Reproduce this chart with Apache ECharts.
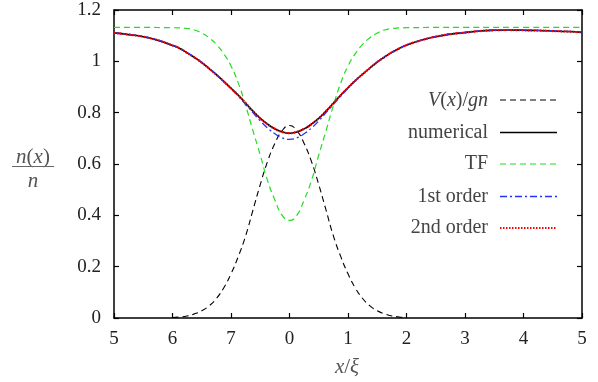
<!DOCTYPE html>
<html>
<head>
<meta charset="utf-8">
<script src="https://cdn.jsdelivr.net/npm/echarts@6/dist/echarts.min.js"></script>
<style>
html,body{margin:0;padding:0;background:#fff;}
#c{width:598px;height:382px;}
</style>
</head>
<body>
<div id="c"></div>
<script>
// tick labels shown on the x axis (as printed in the reference)
var xTickLabels = ["5","6","7","0","1","2","3","4","5"];
var xMin = -3, xMax = 5;

// V(x)/gn
var vX = [-2,-1.875,-1.75,-1.625,-1.5,-1.375,-1.25,-1.125,-1,-0.875,-0.75,-0.625,-0.5,-0.375,-0.25,-0.125,0,
          0.125,0.25,0.375,0.5,0.625,0.75,0.875,1,1.125,1.25,1.375,1.5,1.625,1.75,1.875,2];
var vY = [0.002,0.004,0.008,0.016,0.028,0.047,0.076,0.117,0.172,0.24,0.32,0.42,0.52,0.61,0.68,0.73,0.75,
          0.73,0.68,0.61,0.52,0.42,0.32,0.24,0.172,0.117,0.076,0.047,0.028,0.016,0.008,0.004,0.002];

// TF
var tfX = [-3,-2.5,-2,-1.875,-1.75,-1.625,-1.5,-1.375,-1.25,-1.125,-1,-0.875,-0.75,-0.625,-0.5,-0.375,-0.25,-0.125,0,
           0.125,0.25,0.375,0.5,0.625,0.75,0.875,1,1.125,1.25,1.375,1.5,1.625,1.75,1.875,2,2.5,3,4,5];
var tfY = [1.132,1.132,1.131,1.13,1.128,1.122,1.11,1.092,1.066,1.03,0.982,0.915,0.828,0.73,0.635,0.535,0.46,0.40,0.38,
           0.40,0.46,0.535,0.635,0.73,0.828,0.915,0.982,1.03,1.066,1.092,1.11,1.122,1.128,1.13,1.131,1.132,1.132,1.132,1.132];

// numerical and 2nd order
var nX = [-3,-2.75,-2.5,-2.25,-2,-1.875,-1.75,-1.625,-1.5,-1.375,-1.25,-1.125,-1,-0.875,-0.75,-0.625,-0.5,-0.375,-0.25,-0.125,0,
          0.125,0.25,0.375,0.5,0.625,0.75,0.875,1,1.125,1.25,1.375,1.5,1.625,1.75,1.875,2,2.25,2.5,2.75,3,3.25,3.5,3.75,4,4.25,4.5,4.75,5];
var numY = [1.111,1.104,1.096,1.082,1.062,1.05,1.033,1.015,0.995,0.972,0.948,0.922,0.895,0.868,0.837,0.806,0.778,0.755,0.737,0.725,0.72,
            0.725,0.737,0.755,0.778,0.806,0.837,0.868,0.897,0.925,0.95,0.974,0.997,1.017,1.035,1.05,1.063,1.082,1.096,1.106,1.112,1.118,1.121,1.122,1.121,1.12,1.118,1.116,1.113];
var secondY = [1.111,1.104,1.096,1.082,1.062,1.05,1.033,1.015,0.995,0.972,0.948,0.922,0.895,0.868,0.837,0.806,0.778,0.755,0.737,0.725,0.72,
            0.725,0.737,0.755,0.778,0.806,0.837,0.868,0.897,0.925,0.95,0.974,0.997,1.017,1.035,1.05,1.063,1.082,1.096,1.106,1.112,1.118,1.121,1.122,1.121,1.12,1.118,1.116,1.113];
var firstY = [1.112,1.105,1.097,1.083,1.063,1.051,1.034,1.016,0.996,0.972,0.948,0.921,0.893,0.864,0.832,0.8,0.768,0.74,0.718,0.702,0.696,
            0.702,0.718,0.74,0.768,0.8,0.832,0.864,0.895,0.924,0.95,0.974,0.998,1.018,1.036,1.051,1.064,1.083,1.097,1.107,1.113,1.119,1.122,1.123,1.122,1.121,1.119,1.117,1.114];

function pairs(xs, ys){ return xs.map(function(x,i){ return [x, ys[i]]; }); }

var serif = 'Liberation Serif';
var chart = echarts.init(document.getElementById('c'), null, {renderer:'canvas'});

var axisLine = {show:true, onZero:false, lineStyle:{color:'#000', width:1.5}};
var axisTick = {show:true, inside:true, length:5, lineStyle:{color:'#000', width:1.2}};

var option = {
  animation:false,
  backgroundColor:'#fff',
  grid:{left:114, right:16, top:10, bottom:64},
  xAxis:[
    {type:'value', min:xMin, max:xMax, interval:1, position:'bottom',
     axisLine:axisLine, axisTick:axisTick, splitLine:{show:false},
     axisLabel:{color:'#222', fontFamily:serif, fontSize:19, margin:12,
       formatter:function(v){ var i = Math.round(v - xMin); return xTickLabels[i] !== undefined ? xTickLabels[i] : ''; }}},
    {type:'value', min:xMin, max:xMax, interval:1, position:'top',
     axisLine:axisLine, axisTick:axisTick, splitLine:{show:false}, axisLabel:{show:false}}
  ],
  yAxis:[
    {type:'value', min:0, max:1.2, interval:0.2, position:'left',
     axisLine:axisLine, axisTick:axisTick, splitLine:{show:false},
     axisLabel:{color:'#222', fontFamily:serif, fontSize:19, margin:13}},
    {type:'value', min:0, max:1.2, interval:0.2, position:'right',
     axisLine:axisLine, axisTick:axisTick, splitLine:{show:false}, axisLabel:{show:false}}
  ],
  series:[
    {name:'V(x)/gn', type:'line', data:pairs(vX, vY), smooth:true, symbol:'none',
     lineStyle:{color:'#000', width:1.1, type:[6,4]}, z:2},
    {name:'numerical', type:'line', data:pairs(nX, numY), smooth:true, symbol:'none',
     lineStyle:{color:'#000', width:1.6, type:'solid'}, z:3},
    {name:'TF', type:'line', data:pairs(tfX, tfY), smooth:true, symbol:'none',
     lineStyle:{color:'#22dd22', width:1.2, type:[6,4]}, z:4},
    {name:'1st order', type:'line', data:pairs(nX, firstY), smooth:true, symbol:'none',
     lineStyle:{color:'#2233ff', width:1.3, type:[7,3,2,3]}, z:5},
    {name:'2nd order', type:'line', data:pairs(nX, secondY), smooth:true, symbol:'none',
     lineStyle:{color:'#ff0000', width:2.2, type:[1.5,1.5]}, z:6}
  ],
  graphic:[
    // y title as fraction
    {type:'text', x:33, y:157, style:{text:'{i|n}({i|x})', align:'center', verticalAlign:'middle', font:'21px "Liberation Serif"', fill:'#555',
       rich:{i:{fontStyle:'italic', fontFamily:serif, fontSize:21, fill:'#555'}}}},
    {type:'line', shape:{x1:12, y1:166.5, x2:54, y2:166.5}, style:{stroke:'#666', lineWidth:1.2}},
    {type:'text', x:33, y:181, style:{text:'n', align:'center', verticalAlign:'middle', font:'italic 21px "Liberation Serif"', fill:'#555'}},
    // x title
    {type:'text', x:347, y:367, style:{text:'{i|x}/{i|ξ}', align:'center', verticalAlign:'middle', font:'21px "Liberation Serif"', fill:'#555',
       rich:{i:{fontStyle:'italic', fontFamily:serif, fontSize:21, fill:'#555'}}}},
    // legend texts
    {type:'text', x:488, y:101, style:{text:'{i|V}({i|x})/{i|gn}', align:'right', verticalAlign:'middle', font:'20px "Liberation Serif"', fill:'#444',
       rich:{i:{fontStyle:'italic', fontFamily:serif, fontSize:20, fill:'#444'}}}},
    {type:'text', x:488, y:133, style:{text:'numerical', align:'right', verticalAlign:'middle', font:'20px "Liberation Serif"', fill:'#444'}},
    {type:'text', x:488, y:164, style:{text:'TF', align:'right', verticalAlign:'middle', font:'20px "Liberation Serif"', fill:'#444'}},
    {type:'text', x:488, y:197, style:{text:'1st order', align:'right', verticalAlign:'middle', font:'20px "Liberation Serif"', fill:'#444'}},
    {type:'text', x:488, y:228, style:{text:'2nd order', align:'right', verticalAlign:'middle', font:'20px "Liberation Serif"', fill:'#444'}},
    // legend samples
    {type:'line', shape:{x1:500, y1:100, x2:557, y2:100}, style:{stroke:'#000', lineWidth:1.1, lineDash:[6,4]}},
    {type:'line', shape:{x1:500, y1:132.5, x2:557, y2:132.5}, style:{stroke:'#000', lineWidth:1.6}},
    {type:'line', shape:{x1:500, y1:164, x2:557, y2:164}, style:{stroke:'#22dd22', lineWidth:1.2, lineDash:[6,4]}},
    {type:'line', shape:{x1:500, y1:196.5, x2:557, y2:196.5}, style:{stroke:'#2233ff', lineWidth:1.3, lineDash:[7,3,2,3]}},
    {type:'line', shape:{x1:500, y1:228, x2:557, y2:228}, style:{stroke:'#ff0000', lineWidth:2.2, lineDash:[1.5,1.5]}}
  ]
};
chart.setOption(option);
</script>
</body>
</html>
